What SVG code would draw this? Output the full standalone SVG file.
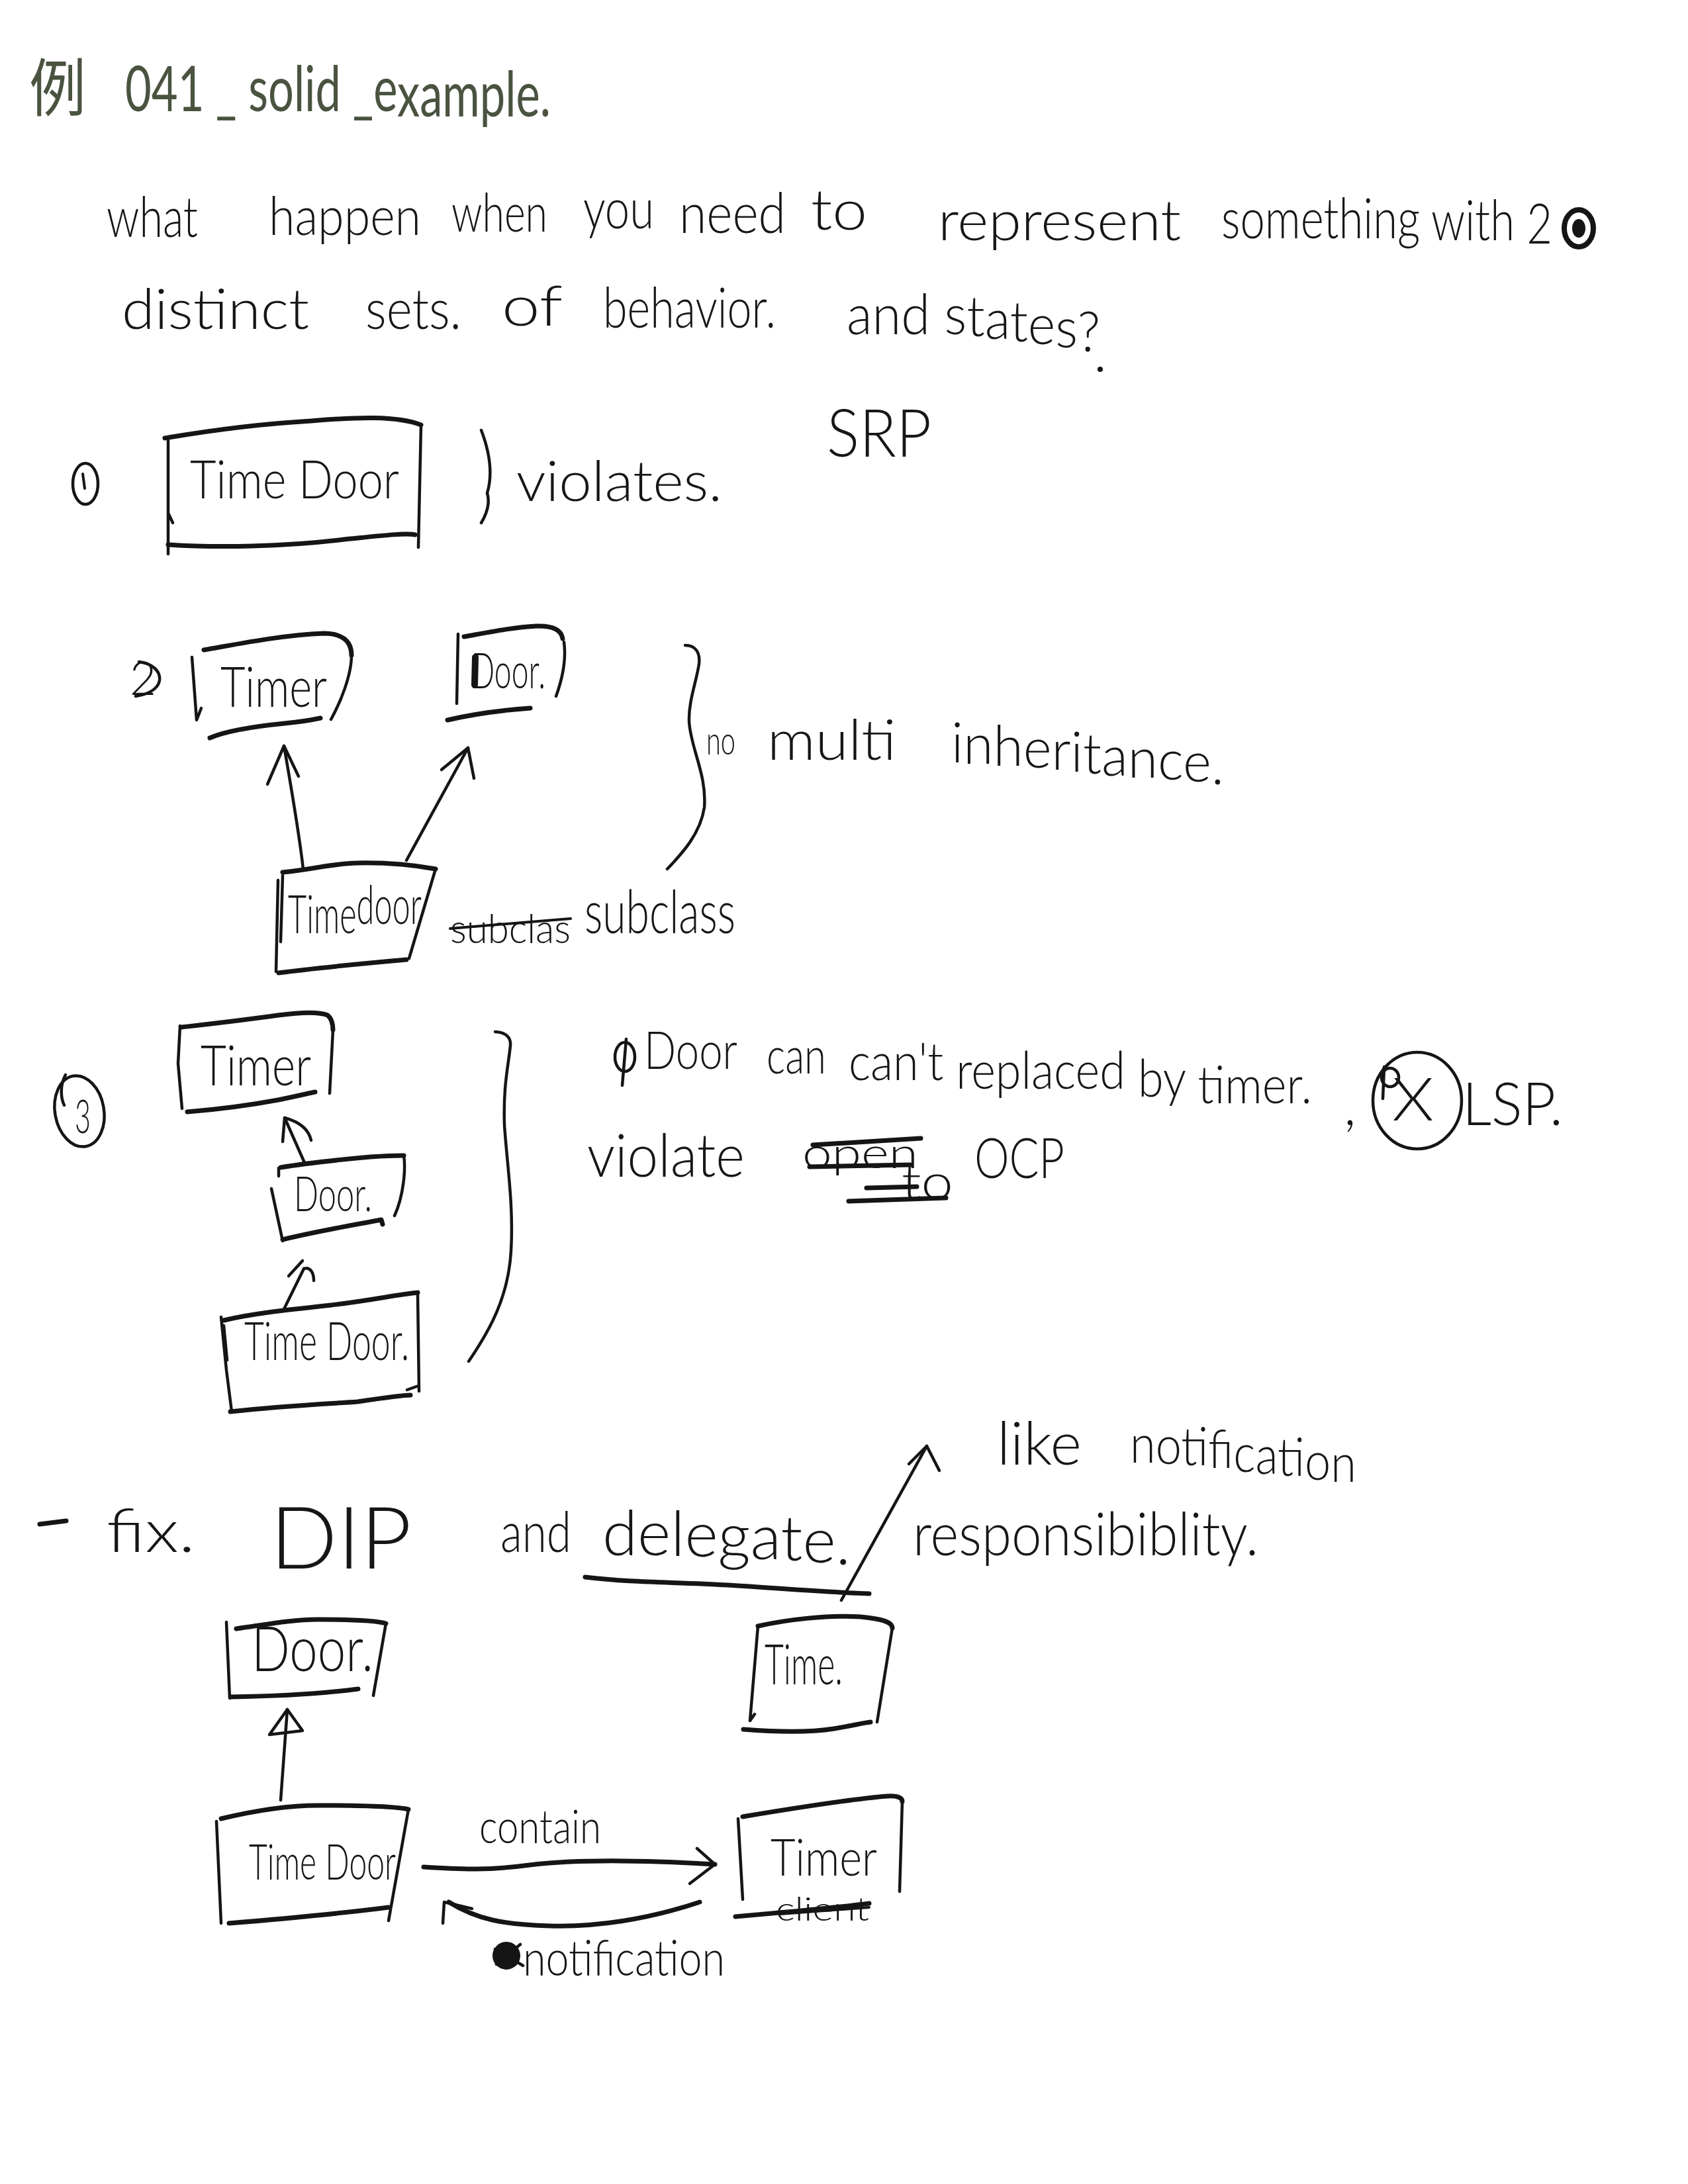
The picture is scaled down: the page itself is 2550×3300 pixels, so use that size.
<svg xmlns="http://www.w3.org/2000/svg" width="2550" height="3300" viewBox="0 0 2550 3300">
<style>
.t{font-family:Lato,"Liberation Sans","Noto Sans CJK SC",sans-serif;font-weight:300;fill:#161616}
.title{fill:#4a5340;font-weight:400}
.h{fill:none;stroke:#151515;stroke-width:7;stroke-linecap:round;stroke-linejoin:round}
.v{fill:none;stroke:#151515;stroke-width:4.5;stroke-linecap:round;stroke-linejoin:round}
.c{fill:none;stroke:#151515;stroke-width:4.5;stroke-linecap:round;stroke-linejoin:round}
.s{fill:none;stroke:#151515;stroke-width:4;stroke-linecap:round}
</style>
<rect width="2550" height="3300" fill="#ffffff"/>

<g id="title">
<text class="t title" font-size="95" x="44" y="168" textLength="86" lengthAdjust="spacingAndGlyphs">例</text>
<text class="t title" font-size="95" x="189" y="168" dy="0 0 0 0 0 0 0 0 0 0 0 0 0 0 8" textLength="643" lengthAdjust="spacingAndGlyphs">041 _ solid _example.</text>
</g>

<g id="intro">
<text class="t" font-size="85" x="161" y="358" textLength="138" lengthAdjust="spacingAndGlyphs">what</text>
<text class="t" font-size="80" x="406" y="355" textLength="230" lengthAdjust="spacingAndGlyphs">happen</text>
<text class="t" font-size="80" x="682" y="350" textLength="145" lengthAdjust="spacingAndGlyphs">when</text>
<text class="t" font-size="85" x="881" y="345" textLength="107" lengthAdjust="spacingAndGlyphs">you</text>
<text class="t" font-size="85" x="1026" y="352" textLength="161" lengthAdjust="spacingAndGlyphs">need</text>
<text class="t" font-size="85" x="1225" y="347" textLength="85" lengthAdjust="spacingAndGlyphs">to</text>
<text class="t" font-size="85" x="1417" y="363" textLength="367" lengthAdjust="spacingAndGlyphs">represent</text>
<text class="t" font-size="85" x="1845" y="360" dy="0 0 0 0 0 0 0 0 0 0 3 0 0 0 0 5" textLength="500" lengthAdjust="spacingAndGlyphs">something with 2</text>
<ellipse cx="2385" cy="345" rx="22" ry="28" fill="none" stroke="#151515" stroke-width="8"/>
<ellipse cx="2385" cy="345" rx="10" ry="14" fill="#151515"/>
<text class="t" font-size="85" x="184" y="497" textLength="283" lengthAdjust="spacingAndGlyphs">distinct</text>
<text class="t" font-size="85" x="552" y="497" textLength="145" lengthAdjust="spacingAndGlyphs">sets.</text>
<text class="t" font-size="85" x="758" y="492" textLength="92" lengthAdjust="spacingAndGlyphs">of</text>
<text class="t" font-size="85" x="911" y="495" textLength="261" lengthAdjust="spacingAndGlyphs">behavior.</text>
<text class="t" font-size="85" x="1279" y="505" dy="0 0 0 0 0 3 4 4 4 5 6" textLength="383" lengthAdjust="spacingAndGlyphs">and states?</text>
<circle cx="1662" cy="558" r="4" fill="#151515"/>
</g>

<g id="section1">
<ellipse cx="129" cy="731" rx="19" ry="31" class="c"/>
<path class="s" d="M125,716 L128,738"/>
<text class="t" font-size="85" x="780" y="757" textLength="311" lengthAdjust="spacingAndGlyphs">violates.</text>
<text class="t" font-size="100" x="1249" y="690" textLength="158" lengthAdjust="spacingAndGlyphs">SRP</text>
<path class="c" d="M727,650 Q748,705 736,745 Q742,765 727,790"/>
</g>
<g id="node-s1-timedoor">
<path class="h" d="M249,662 C320,650 400,640 470,636 C540,630 600,628 636,642"/>
<path class="v" d="M636,642 L632,827"/>
<path class="v" d="M254,665 L254,837 M254,775 L261,790"/>
<path class="h" d="M254,823 C330,828 430,826 520,815 C570,810 610,805 627,808"/>
<text class="t" font-size="80" x="287" y="753" textLength="316" lengthAdjust="spacingAndGlyphs">Time Door</text>
</g>

<g id="section2">
<text class="t" font-size="70" x="196" y="1050" textLength="40" lengthAdjust="spacingAndGlyphs">2</text>
<path class="c" d="M210,1000 C250,1005 255,1045 205,1052"/>
<text class="t" font-size="62" x="680" y="1425" textLength="182" lengthAdjust="spacingAndGlyphs">subclas</text>
<path class="s" d="M680,1403 L862,1388"/>
<text class="t" font-size="90" x="883" y="1410" textLength="228" lengthAdjust="spacingAndGlyphs">subclass</text>
<path class="c" d="M1035,975 C1050,975 1058,985 1056,1003 C1052,1030 1040,1060 1041,1090 C1043,1130 1068,1170 1064,1220 C1058,1260 1030,1290 1008,1313"/>
<text class="t" font-size="60" x="1067" y="1140" textLength="44" lengthAdjust="spacingAndGlyphs">no</text>
<text class="t" font-size="85" x="1159" y="1148" textLength="195" lengthAdjust="spacingAndGlyphs">multi</text>
<text class="t" font-size="85" x="1437" y="1152" dy="0 2 3 3 3 3 3 3 3 3 3 4" textLength="412" lengthAdjust="spacingAndGlyphs">inheritance.</text>
</g>
<g id="node-s2-timer">
<path class="v" d="M290,993 L297,1088 L304,1070"/>
<path class="h" d="M308,982 C350,975 420,960 489,957 C515,957 531,967 531,990"/>
<path class="v" d="M531,990 C531,1020 515,1060 500,1087"/>
<path class="h" d="M317,1115 C340,1105 380,1098 430,1093 C460,1090 475,1087 484,1085"/>
<text class="t" font-size="85" x="333" y="1068" textLength="161" lengthAdjust="spacingAndGlyphs">Timer</text>
</g>
<g id="node-s2-door">
<path class="v" d="M692,958 L690,1063"/>
<path class="h" d="M701,962 C740,955 774,948 810,946 C835,945 848,952 850,965"/>
<path class="v" d="M852,970 C856,1000 848,1030 840,1052"/>
<path class="h" d="M676,1088 C710,1080 760,1073 801,1070"/>
<text class="t" font-size="75" x="712" y="1040" textLength="112" lengthAdjust="spacingAndGlyphs">Door.</text>
<path d="M718,993 L717,1035" stroke="#151515" stroke-width="10" stroke-linecap="round"/>
</g>
<g id="node-s2-timedoor">
<path class="v" d="M420,1330 L417,1468 M427,1323 L424,1423"/>
<path class="h" d="M427,1318 C470,1314 500,1305 540,1304 C590,1303 630,1308 658,1313"/>
<path class="v" d="M658,1313 L618,1448"/>
<path class="h" d="M421,1470 C480,1462 560,1455 614,1450"/>
<text class="t" font-size="80" x="435" y="1410" dy="0 0 0 0 -14" textLength="202" lengthAdjust="spacingAndGlyphs">Timedoor</text>
</g>

<g id="section3">
<ellipse cx="120" cy="1679" rx="37" ry="54" class="c" transform="rotate(-10 120 1679)"/>
<path class="c" d="M99,1624 C90,1640 92,1660 97,1670"/>
<text class="t" font-size="70" x="113" y="1712" textLength="24" lengthAdjust="spacingAndGlyphs">3</text>
<path class="c" d="M748,1559 C765,1560 772,1568 771,1580 C768,1610 760,1640 762,1700 C766,1760 776,1820 772,1890 C768,1960 740,2010 708,2057"/>
<ellipse cx="944" cy="1597" rx="15" ry="22" class="c"/>
<path class="c" d="M946,1570 L940,1640"/>
<text class="t" font-size="78" x="973" y="1615" textLength="141" lengthAdjust="spacingAndGlyphs">Door</text>
<text class="t" font-size="76" x="1158" y="1622" textLength="90" lengthAdjust="spacingAndGlyphs">can</text>
<text class="t" font-size="78" x="1282" y="1632" dy="0 0 0 0 0 0 13 0 0 0 0 0 0 0 0 12 0 0 10" textLength="700" lengthAdjust="spacingAndGlyphs">can't replaced by timer.</text>
<text class="t" font-size="85" x="2030" y="1700">,</text>
<ellipse cx="2141" cy="1663" rx="67" ry="73" class="c"/>
<ellipse cx="2100" cy="1628" rx="13" ry="14" class="c"/>
<path class="c" d="M2091,1612 L2089,1660"/>
<text class="t" font-size="90" x="2103" y="1693" textLength="63" lengthAdjust="spacingAndGlyphs">X</text>
<text class="t" font-size="90" x="2209" y="1700" textLength="152" lengthAdjust="spacingAndGlyphs">LSP.</text>
<text class="t" font-size="90" x="887" y="1778" textLength="238" lengthAdjust="spacingAndGlyphs">violate</text>
<text class="t" font-size="65" x="1212" y="1765" textLength="175" lengthAdjust="spacingAndGlyphs">open</text>
<text class="t" font-size="75" x="1362" y="1812" textLength="78" lengthAdjust="spacingAndGlyphs">to</text>
<text class="t" font-size="85" x="1472" y="1780" textLength="136" lengthAdjust="spacingAndGlyphs">OCP</text>
<path class="h" d="M1228,1730 L1391,1720 M1223,1763 L1375,1760"/>
<path class="h" d="M1309,1795 L1385,1793 M1282,1815 L1429,1810"/>
</g>
<g id="node-s3-timer">
<path class="v" d="M272,1550 L269,1607 L275,1675"/>
<path class="h" d="M275,1552 C310,1548 372,1541 420,1534 C450,1530 481,1528 495,1534 C502,1540 503,1550 503,1556"/>
<path class="v" d="M503,1556 L498,1652"/>
<path class="h" d="M283,1680 C320,1677 372,1671 420,1662 C450,1656 470,1651 476,1650"/>
<text class="t" font-size="85" x="303" y="1640" textLength="167" lengthAdjust="spacingAndGlyphs">Timer</text>
</g>
<g id="node-s3-door">
<path class="v" d="M410,1796 L427,1875 M421,1765 L421,1777"/>
<path class="h" d="M424,1764 C460,1758 516,1752 560,1748 C590,1746 605,1746 610,1746"/>
<path class="v" d="M610,1746 C613,1766 610,1806 596,1837"/>
<path class="h" d="M427,1873 C480,1860 540,1850 576,1843 L578,1850"/>
<text class="t" font-size="72" x="444" y="1830" textLength="118" lengthAdjust="spacingAndGlyphs">Door.</text>
</g>
<g id="node-s3-timedoor">
<path class="v" d="M334,1990 L342,2070 L350,2133 M338,2003 L343,2055"/>
<path class="h" d="M338,1995 C380,1985 426,1980 500,1972 C560,1965 600,1956 631,1953"/>
<path class="v" d="M631,1955 L633,2102 M615,2100 L632,2094"/>
<path class="h" d="M348,2133 C420,2125 480,2122 540,2118 C580,2112 610,2108 620,2108"/>
<text class="t" font-size="80" x="369" y="2055" textLength="249" lengthAdjust="spacingAndGlyphs">Time Door.</text>
</g>

<g id="section4">
<path class="h" d="M60,2303 L100,2298"/>
<text class="t" font-size="90" x="161" y="2345" textLength="134" lengthAdjust="spacingAndGlyphs">fix.</text>
<text class="t" font-size="130" x="408" y="2370" textLength="214" lengthAdjust="spacingAndGlyphs">DIP</text>
<text class="t" font-size="85" x="756" y="2345" textLength="107" lengthAdjust="spacingAndGlyphs">and</text>
<text class="t" font-size="95" x="910" y="2350" dy="0 0 1 1 2 2 2 3 3" textLength="375" lengthAdjust="spacingAndGlyphs">delegate.</text>
<path class="h" d="M884,2383 C960,2392 1018,2390 1100,2395 C1180,2400 1250,2406 1313,2408"/>
<text class="t" font-size="90" x="1506" y="2213" textLength="128" lengthAdjust="spacingAndGlyphs">like</text>
<text class="t" font-size="80" x="1707" y="2210" dy="0 2 2 2 2 3 3 3 3 3 3 3" textLength="342" lengthAdjust="spacingAndGlyphs">notification</text>
<text class="t" font-size="90" x="1379" y="2350" textLength="522" lengthAdjust="spacingAndGlyphs">responsibiblity.</text>
<text class="t" font-size="70" x="724" y="2785" textLength="184" lengthAdjust="spacingAndGlyphs">contain</text>
<ellipse cx="765" cy="2955" rx="18" ry="18" fill="#151515" stroke="#151515" stroke-width="6"/>
<path class="c" d="M748,2945 L790,2970 M750,2968 L786,2938"/>
<text class="t" font-size="75" x="790" y="2985" textLength="305" lengthAdjust="spacingAndGlyphs">notification</text>
</g>
<g id="node-s4-door">
<path class="v" d="M342,2451 L347,2566"/>
<path class="h" d="M357,2461 C400,2455 440,2447 480,2447 C530,2447 570,2449 583,2453"/>
<path class="v" d="M583,2453 L564,2562"/>
<path class="h" d="M349,2564 C420,2563 480,2560 541,2552"/>
<text class="t" font-size="95" x="380" y="2525" textLength="184" lengthAdjust="spacingAndGlyphs">Door.</text>
</g>
<g id="node-s4-time">
<path class="v" d="M1145,2457 L1133,2600 L1140,2590"/>
<path class="h" d="M1145,2457 C1190,2447 1250,2440 1300,2443 C1330,2446 1348,2450 1348,2460"/>
<path class="v" d="M1348,2460 L1325,2602"/>
<path class="h" d="M1123,2613 C1160,2616 1217,2619 1260,2612 C1290,2607 1305,2603 1315,2602"/>
<text class="t" font-size="85" x="1155" y="2545" textLength="118" lengthAdjust="spacingAndGlyphs">Time.</text>
</g>
<g id="node-s4-timedoor">
<path class="v" d="M327,2752 L334,2906"/>
<path class="h" d="M334,2748 C380,2737 430,2728 480,2728 C540,2728 600,2730 617,2734"/>
<path class="v" d="M617,2734 L587,2902"/>
<path class="h" d="M346,2906 C420,2900 500,2893 587,2882"/>
<text class="t" font-size="75" x="376" y="2840" textLength="222" lengthAdjust="spacingAndGlyphs">Time Door</text>
</g>
<g id="node-s4-timerclient">
<path class="v" d="M1115,2748 L1122,2870"/>
<path class="h" d="M1122,2745 C1200,2732 1290,2718 1340,2714 C1355,2713 1363,2716 1363,2722"/>
<path class="v" d="M1363,2722 L1359,2858"/>
<path class="h" d="M1111,2896 C1180,2890 1260,2883 1313,2876"/>
<text class="t" font-size="76" x="1164" y="2834" textLength="161" lengthAdjust="spacingAndGlyphs">Timer</text>
<text class="t" font-size="50" x="1172" y="2902" textLength="141" lengthAdjust="spacingAndGlyphs">client</text>
<path class="s" d="M1179,2892 L1313,2882"/>
</g>

<g id="connectors">
<path class="c" d="M458,1313 C452,1260 440,1190 429,1127"/>
<path class="c" d="M404,1185 L429,1127 L451,1173"/>
<path class="c" d="M614,1300 L707,1130"/>
<path class="c" d="M667,1163 L707,1130 L716,1176"/>
<path class="c" d="M461,1759 L430,1689"/>
<path class="c" d="M427,1725 L430,1689 C452,1695 466,1705 470,1723"/>
<path class="c" d="M428,1980 L459,1917"/>
<path class="c" d="M436,1928 L457,1905 M459,1917 C468,1914 474,1922 474,1935"/>
<path class="c" d="M1271,2418 L1400,2185"/>
<path class="c" d="M1373,2212 L1400,2185 L1419,2222"/>
<path class="c" d="M424,2720 L434,2583"/>
<path class="c" d="M407,2621 L434,2583 L457,2615 Z"/>
<path class="h" d="M640,2821 C700,2825 740,2826 800,2818 C880,2808 1000,2812 1080,2817"/>
<path class="c" d="M1053,2793 L1080,2817 L1042,2846"/>
<path class="h" d="M1057,2874 C980,2900 900,2912 830,2910 C760,2908 720,2900 678,2874"/>
<path class="c" d="M669,2906 L671,2874 L713,2884"/>
</g>
</svg>
